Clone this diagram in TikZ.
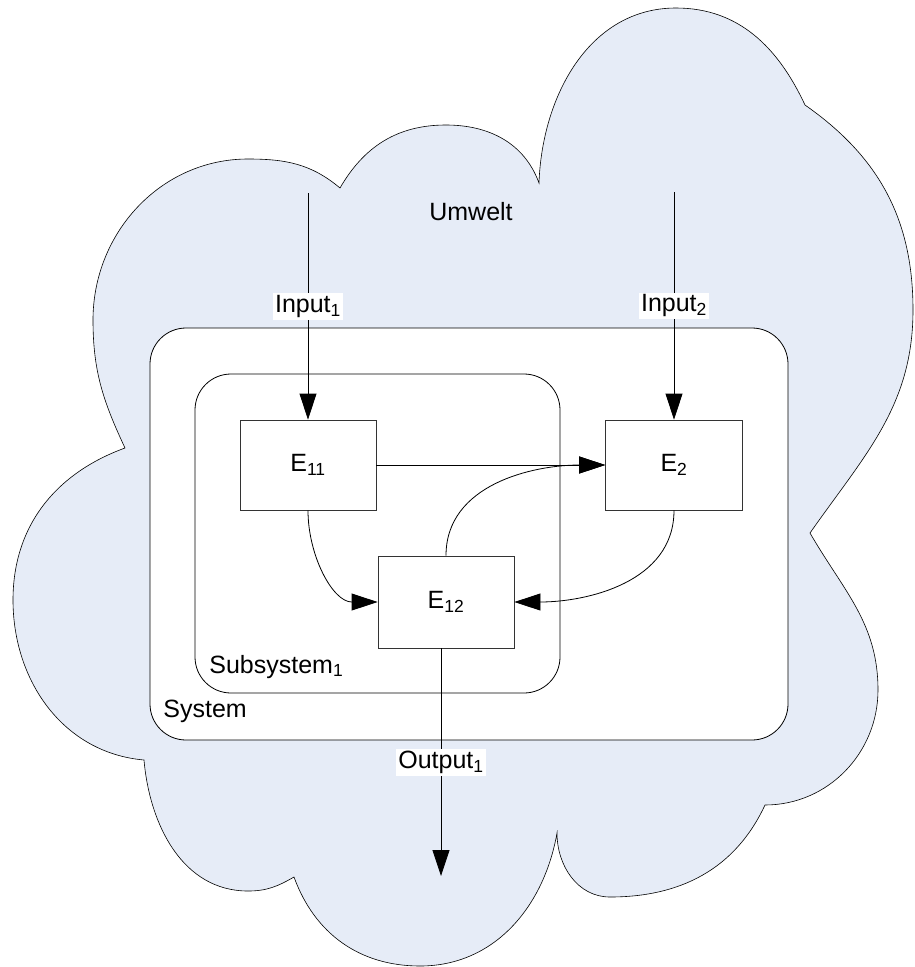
\documentclass[tikz,border=0pt]{standalone}
\usepackage{fontspec}
\setmainfont{Liberation Sans}
\usetikzlibrary{arrows.meta}
\definecolor{umweltblue}{RGB}{230,236,247}

\begin{document}
\begin{tikzpicture}[x=1pt,y=1pt,line width=0.8pt,>={Triangle[length=26pt,width=17pt]},
    font=\fontsize{25}{30}\selectfont]
  \tikzstyle{block}=[draw=black!80,fill=white,minimum width=136pt,minimum height=90pt,inner sep=0pt]
  \tikzstyle{frame}=[draw,rounded corners=36pt,inner sep=0pt]
  \tikzstyle{lbl}=[fill=white,inner sep=2pt]
  \useasboundingbox (0,0) rectangle (914,-967);
  % Umwelt
  \path[draw,fill=umweltblue,line width=0.6pt]
    (125,-448) to[out=115,in=-90] (93,-320) to[out=90,in=180] (248,-159) to[out=0,in=140] (340,-188)
    to[out=60,in=180] (446,-125) to[out=0,in=110] (539,-183)
    to[out=88,in=180] (676,-8) to[out=0,in=115] (805,-105)
    to[out=-35,in=90] (913,-310) to[out=-90,in=55] (810,-533)
    to[out=-60,in=90] (878,-690) to[out=-90,in=0] (765,-805)
    to[out=-115,in=0] (610,-897) to[out=180,in=-90] (557,-833)
    to[out=-100,in=0] (420,-966) to[out=180,in=-70] (294,-877)
    to[out=-150,in=0] (248,-891) to[out=180,in=-85] (144,-760)
    to[out=175,in=-90] (13,-600) to[out=90,in=200] (125,-448) -- cycle;
  \node[anchor=base] (umwelt) at (471,-220) {Umwelt};
  % System und Subsystem
  \node[frame,fill=white,minimum width=638pt,minimum height=412pt] (system) at (469,-534) {};
  \node[frame,minimum width=365pt,minimum height=319pt] (subsystem) at (377.5,-533.5) {};
  \node[anchor=base west,inner sep=0pt] (system_lbl) at (163,-717) {System};
  \node[anchor=base west,inner sep=0pt] (subsystem_lbl) at (209,-673) {Subsystem\textsubscript{1}};
  % Elemente
  \node[block] (E_11) at (308,-465) {E\textsubscript{11}};
  \node[block,minimum width=137pt] (E_2) at (674,-465) {E\textsubscript{2}};
  \node[block,minimum height=92pt] (E_12) at (446,-602) {E\textsubscript{12}};
  \coordinate (in_1) at (308,-193);
  \coordinate (in_2) at (674,-192);
  \coordinate (out_1) at (441,-876);
  \draw[->] (in_1) -- node[lbl] {Input\textsubscript{1}} (E_11);
  \draw[->] (in_2) -- node[lbl] {Input\textsubscript{2}} (E_2);
  \draw[->] (E_12.south -| out_1) -- node[lbl] {Output\textsubscript{1}} (out_1);
  \draw[->] (E_11) -- (E_2);
  \draw[->] (E_12.north) to[out=90,in=180] (E_2.west);
  \draw[->] (E_11.south) to[out=-90,in=180] (E_12.west);
  \draw[->] (E_2.south) to[out=-90,in=0] (E_12.east);
\end{tikzpicture}
\end{document}
